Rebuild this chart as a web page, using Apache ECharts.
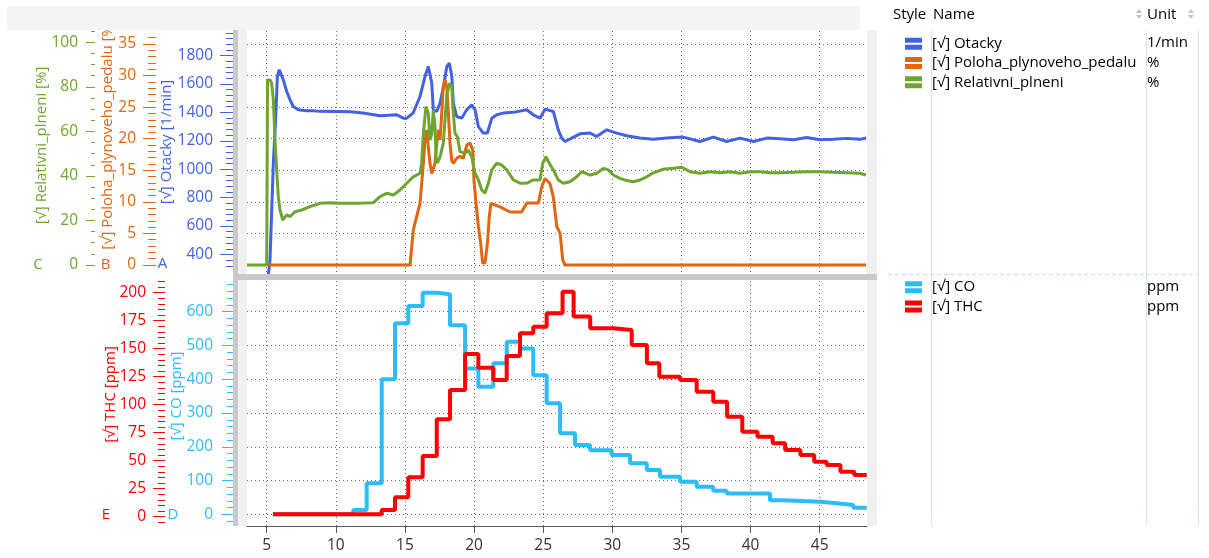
<!DOCTYPE html>
<html><head><meta charset="utf-8">
<script src="https://cdn.jsdelivr.net/npm/echarts@6/dist/echarts.min.js"></script>
<style>html,body{margin:0;padding:0;background:#fff}#c{width:1209px;height:558px}</style>
</head><body><div id="c"></div>
<script>
// ---- data (time [s], value) ----
const otacky = [[5.05,150],[5.12,256],[5.24,361],[5.48,1045],[5.67,1397],[5.77,1652],[5.91,1700],[6.20,1629],[6.45,1547],[6.69,1488],[6.92,1441],[7.29,1418],[7.89,1411],[8.35,1411],[8.86,1407],[10.06,1406],[11.03,1404],[11.97,1395],[13.20,1376],[14.40,1383],[14.88,1359],[15.13,1359],[15.60,1397],[16.09,1512],[16.45,1652],[16.69,1723],[16.94,1606],[17.05,1418],[17.30,1406],[17.54,1465],[17.79,1582],[18.03,1723],[18.21,1747],[18.39,1652],[18.50,1465],[18.74,1371],[19.10,1359],[19.47,1418],[19.83,1453],[20.07,1418],[20.31,1300],[20.67,1254],[20.96,1254],[21.28,1359],[21.64,1383],[22.11,1395],[22.84,1400],[23.81,1418],[24.28,1383],[24.77,1359],[25.13,1423],[25.73,1406],[26.09,1277],[26.34,1219],[26.58,1195],[27.06,1219],[27.66,1249],[28.39,1254],[28.87,1230],[29.59,1277],[30.32,1254],[31.04,1235],[32.00,1219],[32.96,1211],[33.93,1219],[35.13,1226],[36.34,1195],[37.30,1226],[38.27,1195],[39.23,1219],[40.20,1195],[41.17,1219],[42.13,1214],[43.09,1207],[44.06,1223],[45.02,1207],[45.98,1211],[46.95,1217],[47.91,1210],[48.35,1219]];
const poloha = [[5.12,0],[15.37,0],[15.49,0],[15.60,5.5],[15.85,7.7],[16.09,9.8],[16.21,12.9],[16.33,16.1],[16.45,19.8],[16.57,21.4],[16.69,18.7],[16.81,16.1],[16.94,14.5],[17.05,14.3],[17.17,16.1],[17.30,19.3],[17.41,21.4],[17.54,19.8],[17.66,24.0],[17.77,28.2],[17.90,29.3],[18.02,28.2],[18.14,24.0],[18.26,19.3],[18.38,16.6],[18.50,16.1],[18.74,16.9],[18.98,17.2],[19.22,16.9],[19.47,19.0],[19.71,19.3],[19.90,18.2],[19.99,13.5],[20.14,9.8],[20.31,6.1],[20.48,3.4],[20.62,0.3],[20.79,0.3],[20.96,3.4],[21.10,7.7],[21.22,9.8],[21.51,9.5],[21.88,9.2],[22.60,8.4],[23.44,8.4],[23.81,9.8],[24.65,9.8],[24.89,12.4],[25.13,13.7],[25.49,12.9],[25.73,10.8],[25.98,6.1],[26.22,5.0],[26.41,0.8],[26.58,0],[48.35,0]];
const relativni = [[3.55,0],[5.00,0],[5.06,83.1],[5.24,83.1],[5.36,81.6],[5.48,74.1],[5.60,56.1],[5.72,42.7],[5.84,30.7],[5.96,24.7],[6.16,20.2],[6.45,22.5],[6.69,21.7],[7.05,23.9],[7.53,24.7],[8.13,26.2],[8.86,27.7],[9.58,28.0],[10.30,27.7],[11.51,27.7],[12.71,28.0],[13.20,30.7],[13.68,32.2],[14.16,31.4],[14.64,33.7],[15.13,36.7],[15.60,39.6],[16.09,41.2],[16.21,45.7],[16.33,59.1],[16.52,71.1],[16.69,68.1],[16.81,56.1],[16.94,59.1],[17.05,69.6],[17.17,62.1],[17.25,48.6],[17.34,45.7],[17.54,48.6],[17.77,54.6],[18.02,75.6],[18.21,81.6],[18.38,80.1],[18.50,68.1],[18.62,59.1],[18.79,57.6],[18.98,50.9],[19.34,50.2],[19.58,51.6],[19.83,48.6],[20.07,41.2],[20.31,38.2],[20.55,33.7],[20.79,32.2],[21.03,36.7],[21.28,42.7],[21.64,45.7],[22.00,44.9],[22.36,42.7],[22.84,38.2],[23.32,36.7],[23.81,36.7],[24.28,38.2],[24.77,38.2],[24.96,45.7],[25.20,48.6],[25.44,45.7],[25.73,42.7],[26.09,38.2],[26.45,36.7],[26.94,37.4],[27.42,39.6],[27.78,41.9],[28.39,40.4],[28.87,41.2],[29.35,43.4],[29.71,42.7],[30.07,40.4],[30.56,38.9],[31.04,37.9],[31.52,37.4],[32.00,38.2],[32.49,39.6],[32.96,41.4],[33.69,43.0],[34.41,43.4],[35.02,43.9],[35.62,41.9],[36.34,41.2],[37.07,41.9],[37.79,41.4],[38.51,41.9],[39.23,41.2],[39.96,41.9],[40.68,41.9],[41.40,41.4],[42.13,41.4],[43.09,41.6],[44.06,41.9],[45.02,41.9],[45.98,41.6],[46.95,41.4],[47.91,41.2],[48.35,40.4]];
const co = [[5.45,0],[11.26,13],[12.23,92],[13.32,400],[14.28,566],[15.24,617],[16.28,656],[17.30,652],[18.26,560],[19.35,432],[20.31,378],[21.39,447],[22.36,511],[23.32,491],[24.28,412],[25.25,329],[26.22,240],[27.30,205],[28.39,190],[29.95,176],[31.28,151],[32.49,131],[33.45,111],[34.9,96.5],[36.1,81.7],[37.3,70],[38.27,62],[41.4,42],[42.37,37],[45.02,32.6],[46.23,27.5],[47.43,19.5],[48.4,19.5]];
const thc = [[5.45,2.1],[13.32,6.0],[14.28,17.3],[15.24,35.2],[16.28,54.2],[17.30,87.0],[18.26,113.1],[19.35,145.3],[20.31,133.0],[21.39,122.1],[22.36,143.5],[23.32,163.8],[24.28,169.6],[25.25,181.6],[26.4,200.9],[27.2,178.6],[28.4,168.2],[30.07,166.7],[31.4,153.3],[32.5,137],[33.4,125],[34.9,122],[36.1,111.6],[37.3,102.7],[38.3,89.3],[39.4,75.9],[40.5,71.4],[41.6,65.5],[42.5,59.6],[43.6,55.1],[44.6,49.1],[45.5,46.2],[46.5,40.2],[47.5,37.2],[48.4,37.2]];

// ---- tick labels ----
const xTicks = [5,10,15,20,25,30,35,40,45];
const otackyTicks = [400,600,800,1000,1200,1400,1600,1800];
const polohaTicks = [0,5,10,15,20,25,30,35];
const relativniTicks = [0,20,40,60,80,100];
const coTicks = [0,100,200,300,400,500,600];
const thcTicks = [0,25,50,75,100,125,150,175,200];
function range(a,b,s){const r=[];for(let v=a;v<=b+1e-9;v+=s)r.push(Math.round(v*1000)/1000);return r;}
const otackyMinor = range(320,1960,40);
const polohaMinor = range(0,36,1);
const relativniMinor = range(0,105,5);
const coMinor = range(-20,680,20);
const thcMinor = range(-5,210,5);

const C = {ot:'#4361e2', po:'#e2650f', re:'#6ea52e', co:'#2dbcfb', thc:'#ff0000'};
const FONT = 'Open Sans';
const dotted = {color:'#6a6a6a', width:1, type:[1,3]};
const plain = v => String(v);

function yMajor(grid, off, min, max, ticks, color, tl, margin, name, nameGap, pad){
  return {type:'value', gridIndex:grid, position:'left', offset:off, min:min, max:max,
    axisLine:{show:false},
    axisTick:{show:true, length:tl, customValues:ticks, lineStyle:{color:color, width:1}},
    axisLabel:{show:true, customValues:ticks, margin:margin, color:color, fontSize:15.5, fontFamily:FONT, formatter:plain},
    splitLine:{show:false},
    name:name, nameLocation:'middle', nameGap:nameGap, nameRotate:90, nameMoveOverlap:false,
    nameTextStyle:{color:color, fontSize:15, fontFamily:FONT, padding:[0,0,0,pad]}};
}
function yMinor(grid, off, min, max, ticks, color, tl){
  return {type:'value', gridIndex:grid, position:'left', offset:off, min:min, max:max,
    axisLine:{show:false},
    axisTick:{show:true, length:tl, customValues:ticks, lineStyle:{color:color, width:1}},
    axisLabel:{show:false}, splitLine:{show:false}};
}

const yAxes = [
  yMajor(0,14,262.6,1972.6,otackyTicks,C.ot,13,20,'[√] Otacky [1/min]',59,21),
  yMajor(0,91,-1.425,37.06,polohaTicks,C.po,13,20,'[√] Poloha_plynoveho_pedalu [%]',41,36),
  yMajor(0,152,-4.04,105.07,relativniTicks,C.re,9,17,'[√] Relativni_plneni [%]',46,14),
  yMinor(0,14,262.6,1972.6,otackyMinor,C.ot,7),
  yMinor(0,91,-1.425,37.06,polohaMinor,C.po,8),
  yMinor(0,152,-4.04,105.07,relativniMinor,C.re,4),
  yMajor(1,14,-34.6,690.9,coTicks,C.co,11,20,'[√] CO [ppm]',49,15),
  yMajor(1,82,-8.3,210.4,thcTicks,C.thc,12,19,'[√] THC [ppm]',47,18),
  yMinor(1,14,-34.6,690.9,coMinor,C.co,6),
  yMinor(1,82,-8.3,210.4,thcMinor,C.thc,7)
];
// grid lines follow the Poloha axis (top) and CO axis (bottom)
yAxes[1].splitLine = {show:true, lineStyle:dotted};
yAxes[6].splitLine = {show:true, lineStyle:dotted};

const legendIcon = 'path://M0,0H17V5H0Z M0,7H17V12H0Z';
const legendText = {color:'#000', fontSize:15, fontFamily:FONT, lineHeight:19.3, padding:[0,0,0,5]};

const option = {
  animation:false,
  backgroundColor:'#fff',
  textStyle:{fontFamily:FONT},
  grid:[
    {left:247, top:31, width:620, height:243, outerBoundsMode:'none', containLabel:false},
    {left:247, top:281, width:620, height:245, outerBoundsMode:'none', containLabel:false}
  ],
  xAxis:[
    {type:'value', gridIndex:0, min:3.575, max:48.42,
      axisLine:{show:false}, axisTick:{show:false, customValues:xTicks}, axisLabel:{show:false, customValues:xTicks},
      splitLine:{show:true, lineStyle:dotted}},
    {type:'value', gridIndex:1, min:3.575, max:48.42,
      axisLine:{show:true, onZero:false, lineStyle:{color:'#555', width:1}},
      axisTick:{show:true, length:7, customValues:xTicks, lineStyle:{color:'#555'}},
      axisLabel:{show:true, customValues:xTicks, margin:12, color:'#333', fontSize:15.5, fontFamily:FONT, formatter:plain},
      splitLine:{show:true, lineStyle:dotted}}
  ],
  yAxis:yAxes,
  legend:[
    {data:['Otacky','Poloha_plynoveho_pedalu','Relativni_plneni'], orient:'vertical', left:905, top:34, padding:0,
      icon:legendIcon, itemWidth:17, itemHeight:12, itemGap:0, textStyle:legendText,
      formatter:'[√] {name}', selectedMode:false},
    {data:['CO','THC'], orient:'vertical', left:905, top:277.5, padding:0,
      icon:legendIcon, itemWidth:17, itemHeight:12, itemGap:0, textStyle:legendText,
      formatter:'[√] {name}', selectedMode:false}
  ],
  series:[
    {name:'Otacky', type:'line', xAxisIndex:0, yAxisIndex:0, data:otacky, showSymbol:false, lineStyle:{color:C.ot,width:3}, itemStyle:{color:C.ot}, z:3},
    {name:'Poloha_plynoveho_pedalu', type:'line', xAxisIndex:0, yAxisIndex:1, data:poloha, showSymbol:false, lineStyle:{color:C.po,width:3}, itemStyle:{color:C.po}, z:4},
    {name:'Relativni_plneni', type:'line', xAxisIndex:0, yAxisIndex:2, data:relativni, showSymbol:false, lineStyle:{color:C.re,width:3}, itemStyle:{color:C.re}, z:5},
    {name:'CO', type:'line', step:'end', xAxisIndex:1, yAxisIndex:6, data:co, showSymbol:false, lineStyle:{color:C.co,width:4}, itemStyle:{color:C.co}, z:3},
    {name:'THC', type:'line', step:'end', xAxisIndex:1, yAxisIndex:7, data:thc, showSymbol:false, lineStyle:{color:C.thc,width:4}, itemStyle:{color:C.thc}, z:4}
  ],
  graphic:[
    {type:'rect', shape:{x:7,y:6,width:853,height:24}, style:{fill:'#f4f4f4'}, z:100, silent:true},
    {type:'rect', shape:{x:233,y:30,width:5,height:496}, style:{fill:'#c8c8c8'}, z:50, silent:true},
    {type:'rect', shape:{x:238,y:30,width:9,height:496}, style:{fill:'#f0f0f0'}, z:50, silent:true},
    {type:'rect', shape:{x:867,y:30,width:10,height:496}, style:{fill:'#f0f0f0'}, z:50, silent:true},
    {type:'rect', shape:{x:233,y:274,width:644,height:6}, style:{fill:'#c8c8c8'}, z:50, silent:true},
    {type:'line', shape:{x1:931.5,y1:30,x2:931.5,y2:525}, style:{stroke:'#d3e2f4', lineWidth:1}, silent:true},
    {type:'line', shape:{x1:1146.5,y1:30,x2:1146.5,y2:525}, style:{stroke:'#d3e2f4', lineWidth:1}, silent:true},
    {type:'line', shape:{x1:1198.5,y1:30,x2:1198.5,y2:525}, style:{stroke:'#d3e2f4', lineWidth:1}, silent:true},
    {type:'line', shape:{x1:888,y1:274.5,x2:1198,y2:274.5}, style:{stroke:'#c6daf0', lineWidth:1, lineDash:[4,3]}, silent:true},
    {type:'text', x:893, y:15, style:{text:'Style', fill:'#000', font:'15px "Open Sans"', verticalAlign:'middle'}},
    {type:'text', x:933, y:15, style:{text:'Name', fill:'#000', font:'15px "Open Sans"', verticalAlign:'middle'}},
    {type:'text', x:1147, y:15, style:{text:'Unit', fill:'#000', font:'15px "Open Sans"', verticalAlign:'middle'}},
    {type:'polygon', shape:{points:[[1136,13],[1139,9],[1142,13]]}, style:{fill:'#c4c4c4'}},
    {type:'polygon', shape:{points:[[1136,15],[1139,19],[1142,15]]}, style:{fill:'#c4c4c4'}},
    {type:'polygon', shape:{points:[[1188,13],[1191,9],[1194,13]]}, style:{fill:'#c4c4c4'}},
    {type:'polygon', shape:{points:[[1188,15],[1191,19],[1194,15]]}, style:{fill:'#c4c4c4'}},
    {type:'text', x:1147, y:43, style:{text:'1/min', fill:'#000', font:'15px "Open Sans"', verticalAlign:'middle'}},
    {type:'text', x:1147, y:62.5, style:{text:'%', fill:'#000', font:'15px "Open Sans"', verticalAlign:'middle'}},
    {type:'text', x:1147, y:82.8, style:{text:'%', fill:'#000', font:'15px "Open Sans"', verticalAlign:'middle'}},
    {type:'text', x:1147, y:286.5, style:{text:'ppm', fill:'#000', font:'15px "Open Sans"', verticalAlign:'middle'}},
    {type:'text', x:1147, y:306.8, style:{text:'ppm', fill:'#000', font:'15px "Open Sans"', verticalAlign:'middle'}},
    {type:'text', x:162.5, y:264, style:{text:'A', fill:C.ot, font:'15px "Open Sans"', align:'center', verticalAlign:'middle'}},
    {type:'text', x:105.5, y:265, style:{text:'B', fill:C.po, font:'15px "Open Sans"', align:'center', verticalAlign:'middle'}},
    {type:'text', x:38, y:265, style:{text:'C', fill:C.re, font:'15px "Open Sans"', align:'center', verticalAlign:'middle'}},
    {type:'text', x:173, y:515, style:{text:'D', fill:C.co, font:'15px "Open Sans"', align:'center', verticalAlign:'middle'}},
    {type:'text', x:106, y:515, style:{text:'E', fill:C.thc, font:'15px "Open Sans"', align:'center', verticalAlign:'middle'}}
  ]
};
const chart = echarts.init(document.getElementById('c'), null, {renderer:'canvas'});
chart.setOption(option);
</script>
</body></html>
